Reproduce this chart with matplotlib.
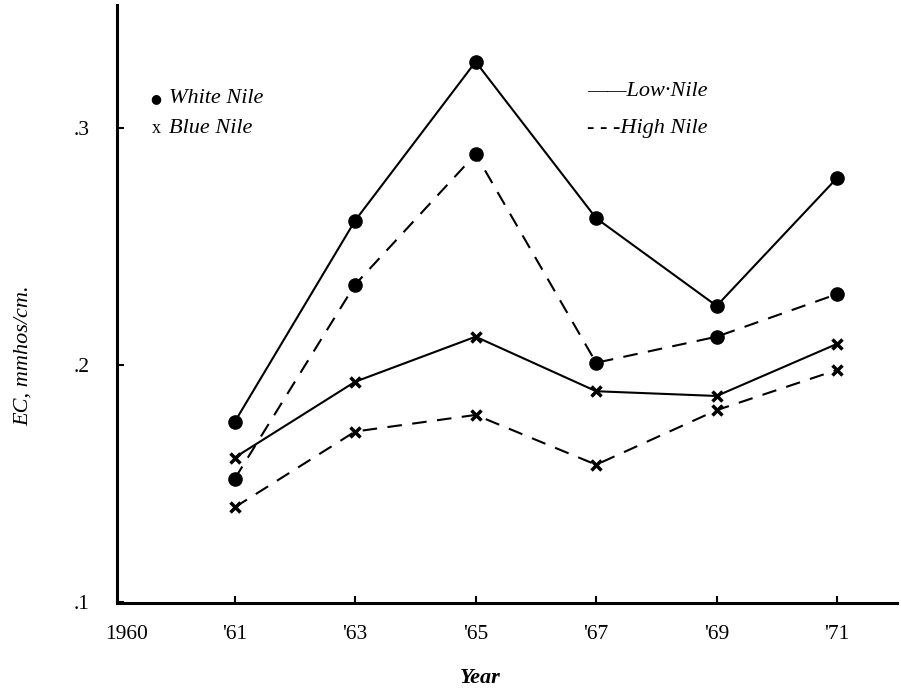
import matplotlib
matplotlib.use('Agg')
import matplotlib.pyplot as plt

years = [1961, 1963, 1965, 1967, 1969, 1971]
white_low = [0.176, 0.261, 0.328, 0.262, 0.225, 0.279]
white_high = [0.152, 0.234, 0.289, 0.201, 0.212, 0.230]
blue_low = [0.161, 0.193, 0.212, 0.189, 0.187, 0.209]
blue_high = [0.140, 0.172, 0.179, 0.158, 0.181, 0.198]

xticks = [1961, 1963, 1965, 1967, 1969, 1971]
xticklabels = ["'61", "'63", "'65", "'67", "'69", "'71"]
yticks = [0.1, 0.2, 0.3]
yticklabels = ['.1', '.2', '.3']

plt.rcParams['font.family'] = ['Liberation Serif', 'DejaVu Serif']

fig = plt.figure(figsize=(9.01, 6.93), dpi=100)
ax = fig.add_axes([0.130, 0.130, 0.866, 0.863])

ax.plot(years, white_low, '-', color='black', lw=1.5, marker='o', ms=9.5)
ax.plot(years, white_high, '--', color='black', lw=1.5, dashes=(7, 5), marker='o', ms=9.5)
ax.plot(years, blue_low, '-', color='black', lw=1.5, marker='x', ms=7, mew=2.5)
ax.plot(years, blue_high, '--', color='black', lw=1.5, dashes=(7, 5), marker='x', ms=7, mew=2.5)

ax.set_xlim(1959.05, 1972.0)
ax.set_ylim(0.0997, 0.352)
ax.set_xticks(xticks)
ax.set_xticklabels(xticklabels, fontsize=15.5)
# '1960' sits at the origin, without a tick mark
ax.set_xticks([1959.2], minor=True)
ax.set_xticklabels(['1960'], minor=True, fontsize=15.5)
ax.tick_params(axis='x', which='minor', length=0, pad=16)
ax.set_yticks(yticks)
ax.set_yticklabels(yticklabels, fontsize=15.5)
ax.tick_params(direction='in', length=5, width=1.5)
ax.tick_params(axis='x', which='major', pad=16)
ax.tick_params(axis='y', pad=20)

for side in ['top', 'right']:
    ax.spines[side].set_visible(False)
for side in ['left', 'bottom']:
    ax.spines[side].set_linewidth(2.2)

ax.set_xlabel('Year', fontsize=16, fontstyle='italic', fontweight='bold')
ax.xaxis.set_label_coords(0.465, -0.108)
ax.set_ylabel('EC, mmhos/cm.', fontsize=16, fontstyle='italic')
ax.yaxis.set_label_coords(-0.108, 0.414)

ax.text(0.050, 0.843, '\u25cf', transform=ax.transAxes, fontsize=9,
        va='center', ha='center', family='DejaVu Sans')
ax.text(0.066, 0.843, 'White Nile', transform=ax.transAxes, fontsize=16,
        fontstyle='italic', va='center')
ax.text(0.050, 0.7925, 'x', transform=ax.transAxes, fontsize=13,
        va='center', ha='center')
ax.text(0.066, 0.7925, 'Blue Nile', transform=ax.transAxes, fontsize=16,
        fontstyle='italic', va='center')
ax.text(0.602, 0.855, '\u2014\u2014Low\u00b7Nile', transform=ax.transAxes, fontsize=16,
        fontstyle='italic', va='center')
ax.text(0.602, 0.794, '- - -High Nile', transform=ax.transAxes, fontsize=16,
        fontstyle='italic', va='center')

fig.savefig('out.png', dpi=100)
